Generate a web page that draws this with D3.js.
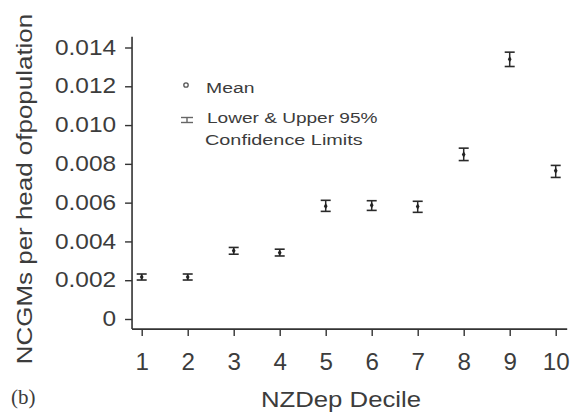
<!DOCTYPE html>
<html>
<head>
    <meta charset="utf-8">
    <title>NCGMs per head of population by NZDep decile</title>
    <style>
    body { margin: 0; background: #fff; }
    text { font-family: 'Liberation Sans', Arial, sans-serif; fill: #3c3c3c; }
    </style>
</head>
<body>

<script src="https://d3js.org/d3.v7.min.js"></script>
<script type="text/javascript">

// values
var deciles = [1, 2, 3, 4, 5, 6, 7, 8, 9, 10];
var means   = [0.00216, 0.00216, 0.00352, 0.00342, 0.00582, 0.00587, 0.00580, 0.00848, 0.01340, 0.00764];
var lower   = [0.00201, 0.00201, 0.00334, 0.00325, 0.00555, 0.00560, 0.00550, 0.00817, 0.01302, 0.00730];
var upper   = [0.00232, 0.00232, 0.00369, 0.00360, 0.00612, 0.00610, 0.00607, 0.00881, 0.01376, 0.00792];
var yTicks  = [0, 0.002, 0.004, 0.006, 0.008, 0.010, 0.012, 0.014];
var yTickLabels = ["0", "0.002", "0.004", "0.006", "0.008", "0.010", "0.012", "0.014"];

var width = 571, height = 412;

var x = d3.scaleLinear().domain([1, 10]).range([141.7, 555.7]);
var y = d3.scaleLinear().domain([0, 0.014]).range([319, 47.5]);

// the original lettering is a little stretched sideways
function widen(sel, s) {
    sel.each(function() {
        var t = d3.select(this);
        var tx = +t.attr("x") || 0;
        t.attr("x", tx / s).attr("transform", "scale(" + s + ",1)");
    });
}

var svg = d3.select("body")
    .append("svg")
    .attr("width", width)
    .attr("height", height);

// axis lines (offset from the data area)
svg.append("line")
    .attr("x1", x(0.79)).attr("x2", x(0.79))
    .attr("y1", y(0.01455)).attr("y2", y(-0.00052))
    .attr("stroke", "#333").attr("stroke-width", 1.6);

svg.append("line")
    .attr("x1", x(0.79)).attr("x2", x(10.25))
    .attr("y1", y(-0.00052)).attr("y2", y(-0.00052))
    .attr("stroke", "#333").attr("stroke-width", 1.6);

var yAxis = svg.append("g")
    .attr("transform", "translate(" + x(0.79) + ",0)")
    .call(d3.axisLeft(y)
        .tickValues(yTicks)
        .tickFormat(function(d, i) { return yTickLabels[i]; })
        .tickSizeInner(7).tickSizeOuter(0).tickPadding(9));

yAxis.select(".domain").remove();
yAxis.selectAll("line").attr("stroke", "#333").attr("stroke-width", 1.4);
yAxis.selectAll("text")
    .attr("font-size", 22)
    .attr("font-family", null)
    .attr("fill", null)
    .attr("dy", "0.30em")
    .call(widen, 1.11);

var xAxis = svg.append("g")
    .attr("transform", "translate(0," + y(-0.00052) + ")")
    .call(d3.axisBottom(x)
        .tickValues(deciles)
        .tickFormat(d3.format("d"))
        .tickSizeInner(7).tickSizeOuter(0).tickPadding(18));

xAxis.select(".domain").remove();
xAxis.selectAll("line").attr("stroke", "#333").attr("stroke-width", 1.4);
xAxis.selectAll("text")
    .attr("font-size", 23)
    .attr("font-family", null)
    .attr("fill", null)
    .call(widen, 1.05);

// axis titles
svg.append("text")
    .attr("transform", "translate(341,407) scale(1.17,1)")
    .attr("text-anchor", "middle")
    .attr("font-size", 22)
    .text("NZDep Decile");

svg.append("text")
    .attr("transform", "translate(32,189) rotate(-90) scale(1.18,1)")
    .attr("text-anchor", "middle")
    .attr("font-size", 22)
    .text("NCGMs per head ofpopulation");

svg.append("text")
    .attr("x", 11)
    .attr("y", 404)
    .attr("font-size", 21)
    .style("font-family", "'Liberation Serif', 'Times New Roman', serif")
    .text("(b)");

// error bars
var bars = svg.append("g");
var capW = 5;

deciles.forEach(function(d, i) {
    bars.append("line")
        .attr("x1", x(d)).attr("x2", x(d))
        .attr("y1", y(lower[i])).attr("y2", y(upper[i]))
        .attr("stroke", "#2a2a2a").attr("stroke-width", 1.5);
    bars.append("line")
        .attr("x1", x(d) - capW).attr("x2", x(d) + capW)
        .attr("y1", y(upper[i])).attr("y2", y(upper[i]))
        .attr("stroke", "#2a2a2a").attr("stroke-width", 1.6);
    bars.append("line")
        .attr("x1", x(d) - capW).attr("x2", x(d) + capW)
        .attr("y1", y(lower[i])).attr("y2", y(lower[i]))
        .attr("stroke", "#2a2a2a").attr("stroke-width", 1.6);
});

// means
svg.append("g").selectAll("path")
    .data(deciles)
    .join("path")
    .attr("d", d3.symbol().type(d3.symbolDiamond).size(12))
    .attr("transform", function(d, i) { return "translate(" + x(d) + "," + y(means[i]) + ")"; })
    .attr("fill", "#222");

// legend
svg.append("circle")
    .attr("cx", 186).attr("cy", 85).attr("r", 2.2)
    .attr("fill", "none").attr("stroke", "#555").attr("stroke-width", 1.3);

svg.append("text")
    .attr("transform", "translate(206,93) scale(1.25,1)")
    .attr("font-size", 15.5)
    .text("Mean");

svg.append("line")
    .attr("x1", 187).attr("x2", 187).attr("y1", 117.5).attr("y2", 122.5)
    .attr("stroke", "#666").attr("stroke-width", 1.4);
svg.append("line")
    .attr("x1", 181).attr("x2", 193).attr("y1", 117.5).attr("y2", 117.5)
    .attr("stroke", "#666").attr("stroke-width", 1.4);
svg.append("line")
    .attr("x1", 181).attr("x2", 193).attr("y1", 122.5).attr("y2", 122.5)
    .attr("stroke", "#666").attr("stroke-width", 1.4);

svg.append("text")
    .attr("transform", "translate(207,123) scale(1.23,1)")
    .attr("font-size", 15.5)
    .text("Lower & Upper 95%");

svg.append("text")
    .attr("transform", "translate(205,145) scale(1.28,1)")
    .attr("font-size", 15.5)
    .text("Confidence Limits");

</script>

</body>
</html>
